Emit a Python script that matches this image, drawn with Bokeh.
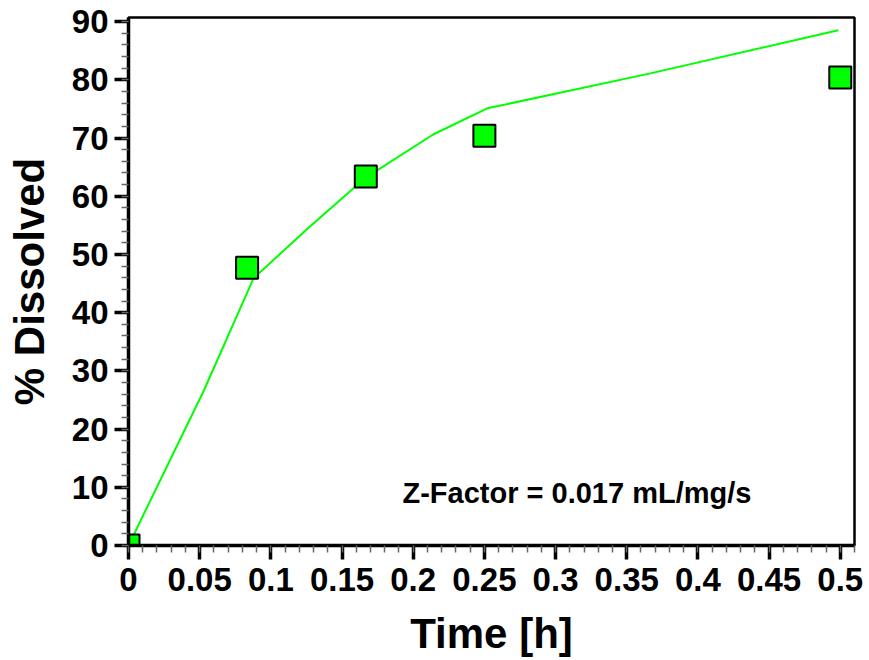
from bokeh.plotting import figure
from bokeh.models import Range1d, FixedTicker, Label
from bokeh.embed import file_html
from bokeh.resources import INLINE

# Observed data (time in h, % dissolved)
obs_time = [0.0, 0.0833, 0.1667, 0.25, 0.5]
obs_pct = [0.0, 47.7, 63.4, 70.4, 80.4]

# Model curve
fit_time = [0.0, 0.0527, 0.0878, 0.1257, 0.1667, 0.214, 0.252, 0.3666, 0.4986]
fit_pct = [0.0, 26.5, 45.9, 54.4, 63.2, 70.6, 75.1, 81.1, 88.5]

x_ticks = [0, 0.05, 0.1, 0.15, 0.2, 0.25, 0.3, 0.35, 0.4, 0.45, 0.5]
x_tick_labels = ["0", "0.05", "0.1", "0.15", "0.2", "0.25", "0.3", "0.35", "0.4", "0.45", "0.5"]
y_ticks = [0, 10, 20, 30, 40, 50, 60, 70, 80, 90]

annotation = "Z-Factor = 0.017 mL/mg/s"
x_title = "Time [h]"
y_title = "% Dissolved"

FONT = "Liberation Sans"

p = figure(width=869, height=660, output_backend="svg", toolbar_location=None,
           x_range=Range1d(0, 0.51), y_range=Range1d(0, 90.7),
           min_border_left=128, min_border_right=15, min_border_top=17, min_border_bottom=115)
p.grid.visible = False
p.background_fill_color = "white"
p.border_fill_color = "white"
p.outline_line_color = "black"
p.outline_line_width = 2.5

p.line(fit_time, fit_pct, line_color="#00ff00", line_width=2)
p.scatter(obs_time, obs_pct, marker="square", size=22, fill_color="#00ff00",
          line_color="black", line_width=2)

for ax in (p.xaxis[0], p.yaxis[0]):
    ax.axis_line_width = 3.5
    ax.axis_line_color = "black"
    ax.major_tick_line_width = 3.5
    ax.major_tick_line_color = "black"
    ax.major_tick_out = 14
    ax.major_tick_in = 0
    ax.minor_tick_line_width = 1.5
    ax.minor_tick_line_color = "#666666"
    ax.minor_tick_out = 7
    ax.minor_tick_in = 0
    ax.major_label_text_font = FONT
    ax.major_label_text_font_style = "bold"
    ax.major_label_text_font_size = "33px"
    ax.major_label_text_color = "black"
    ax.axis_label_text_font = FONT
    ax.axis_label_text_font_style = "bold"
    ax.axis_label_text_font_size = "42px"
    ax.axis_label_text_color = "black"

p.xaxis[0].ticker = FixedTicker(ticks=x_ticks,
                                minor_ticks=[round(i * 0.01, 3) for i in range(0, 52)])
p.xaxis[0].major_label_overrides = {t: l for t, l in zip(x_ticks, x_tick_labels)}
p.yaxis[0].ticker = FixedTicker(ticks=y_ticks, minor_ticks=[i * 2 for i in range(0, 46)])
p.xaxis[0].axis_label = x_title
p.yaxis[0].axis_label = y_title
p.xaxis[0].major_label_standoff = 8
p.yaxis[0].major_label_standoff = 6
p.xaxis[0].axis_label_standoff = 16
p.yaxis[0].axis_label_standoff = 16

p.add_layout(Label(x=274, y=53, x_units="screen", y_units="screen", text=annotation,
                   text_font=FONT, text_font_style="bold", text_font_size="29px",
                   text_baseline="middle", text_color="black"))

open("out.html", "w").write(file_html(p, INLINE))
